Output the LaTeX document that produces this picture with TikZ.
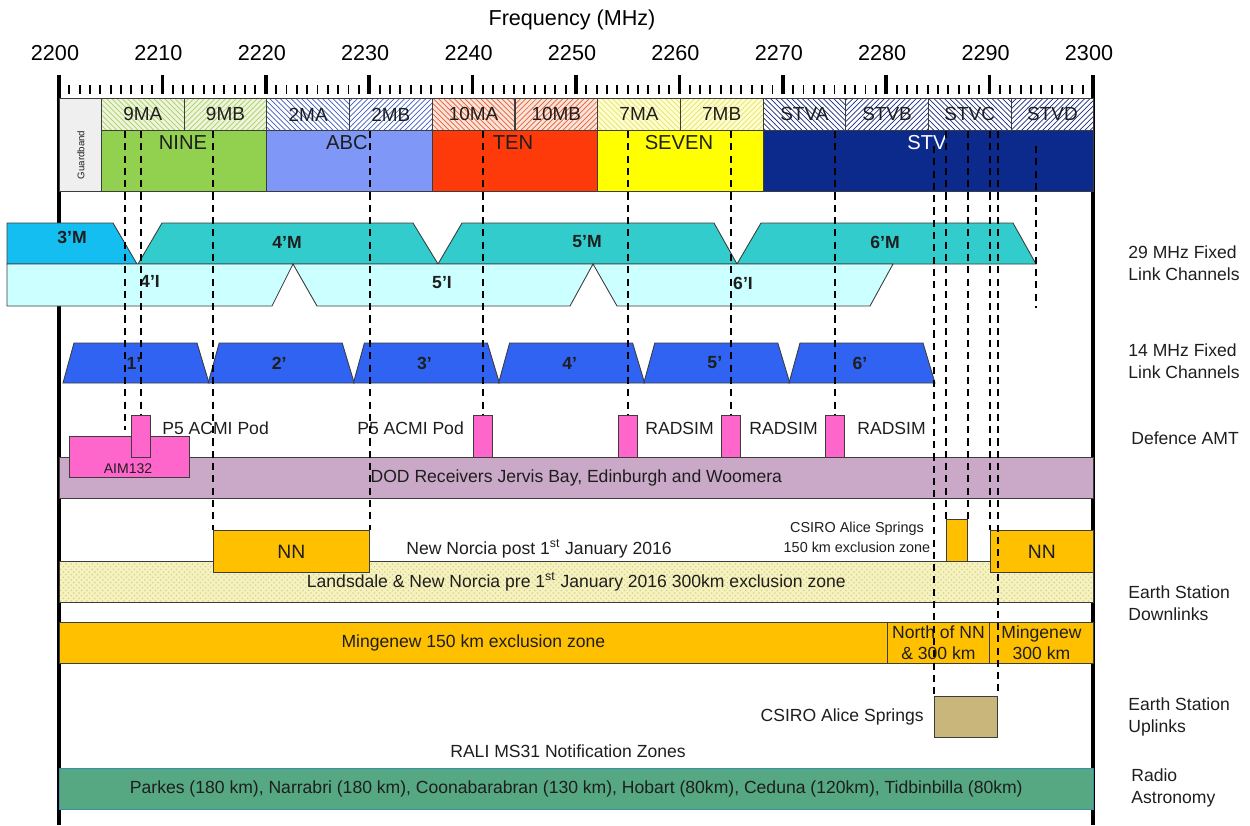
\documentclass[tikz,border=0pt]{standalone}
\usepackage{fontspec}
\setmainfont{Liberation Sans}
\usetikzlibrary{patterns}

\definecolor{outl}{HTML}{3C3C3C}
\definecolor{txt}{HTML}{1E1E1E}
\definecolor{guardc}{HTML}{EFEFEF}
\definecolor{ninel}{HTML}{EEF5DA}
\definecolor{nineh}{HTML}{A9CF6A}
\definecolor{ninec}{HTML}{92D050}
\definecolor{abch}{HTML}{3F5FC0}
\definecolor{abcc}{HTML}{7F97F7}
\definecolor{tenl}{HTML}{FBE3D8}
\definecolor{tenh}{HTML}{E2603C}
\definecolor{tenc}{HTML}{FF3A0A}
\definecolor{sevl}{HTML}{FFFFD0}
\definecolor{sevh}{HTML}{E6E070}
\definecolor{sevc}{HTML}{FFFF00}
\definecolor{stvh}{HTML}{1B2F7F}
\definecolor{stvc}{HTML}{0C2A8C}
\definecolor{m3c}{HTML}{14BEF0}
\definecolor{mc}{HTML}{33CCCC}
\definecolor{ic}{HTML}{CCFFFF}
\definecolor{fourteen}{HTML}{3063F2}
\definecolor{pinkc}{HTML}{FF66CC}
\definecolor{dodc}{HTML}{CAA9C8}
\definecolor{landl}{HTML}{F6F2C0}
\definecolor{landh}{HTML}{D9D18A}
\definecolor{nnc}{HTML}{FFC000}
\definecolor{tanc}{HTML}{C9B67B}
\definecolor{radioc}{HTML}{55A882}
\definecolor{radioe}{HTML}{3A8FA8}

\begin{document}
\begin{tikzpicture}[x=0.02cm, y=-0.02cm,
    rim/.style={draw=outl, line width=0.5pt},
    box/.style={rim, inner sep=0pt, anchor=north west},
    chan/.style={box, minimum width=1.654cm, minimum height=0.64cm,
                 font=\fontsize{10.8}{12}\selectfont, text=txt},
    band/.style={box, minimum width=3.309cm, minimum height=1.22cm},
    bname/.style={font=\fontsize{11.5}{13}\selectfont, text=txt},
    strip/.style={box, minimum width=20.68cm, minimum height=0.82cm,
                  font=\fontsize{10}{12}\selectfont, text=txt},
    txtlab/.style={font=\fontsize{10}{12.5}\selectfont, text=txt, inner sep=0pt},
    side/.style={txtlab, anchor=west, align=left},
    chlab/.style={font=\bfseries\fontsize{10}{12}\selectfont, text=txt},
    pod/.style={rim, fill=pinkc, inner sep=0pt, anchor=north,
                minimum width=0.38cm, minimum height=0.84cm},
    nnbox/.style={box, fill=nnc, minimum height=0.84cm,
                  font=\fontsize{11}{13}\selectfont, text=txt},
    mingbox/.style={box, fill=nnc, minimum height=0.82cm, align=center,
                    font=\fontsize{10}{12}\selectfont, text=txt},
    guide/.style={line width=1.4pt, dash pattern=on 4pt off 3pt},
    minortk/.style={line width=1.1pt},
    majortk/.style={line width=2pt},
    axisline/.style={line width=2.2pt}
  ]
  \useasboundingbox (0,0) rectangle (1250,825);

  % frequency scale
  \node[font=\fontsize{12.3}{14}\selectfont] (title) at (572,20) {Frequency (MHz)};
  \foreach \fq [count=\k from 0] in {2200,2210,...,2300}
    \node[font=\fontsize{12.3}{14}\selectfont] (f\k) at ({55+\k*103.4},53) {\fq};
  \foreach \m in {1,...,99}
    \draw[minortk] ({59+\m*10.34},85) -- ({59+\m*10.34},94);
  \foreach \k in {1,...,9}
    \draw[majortk] ({59+\k*103.4},75) -- ({59+\k*103.4},94);
  \draw[axisline] (59,75) -- (59,825);
  \draw[axisline] (1093,75) -- (1093,825);

  % broadcaster channels
  \node[box, fill=guardc, minimum width=0.84cm, minimum height=1.86cm] (guard) at (59,98) {};
  \node[rotate=90, font=\fontsize{5.5}{6}\selectfont, text=txt] (guardT) at (81,155) {Guardband};
  \foreach \nm/\bg/\hc/\dir [count=\i from 0] in {
      9MA/ninel/nineh/north west lines,9MB/ninel/nineh/north east lines,
      2MA/white/abch/north west lines,2MB/white/abch/north east lines,
      10MA/tenl/tenh/north west lines,10MB/tenl/tenh/north east lines,
      7MA/sevl/sevh/north west lines,7MB/sevl/sevh/north east lines,
      STVA/white/stvh/north west lines,STVB/white/stvh/north east lines,
      STVC/white/stvh/north west lines,STVD/white/stvh/north east lines}
    \node[chan, preaction={fill=\bg}, pattern=\dir, pattern color=\hc] (ch\i) at ({101+\i*82.7},98) {\nm};

  \node[band, fill=ninec] (nine) at (101,130) {};
  \node[band, fill=abcc] (abc) at (266.4,130) {};
  \node[band, fill=tenc] (ten) at (431.8,130) {};
  \node[band, fill=sevc] (seven) at (597.2,130) {};
  \node[band, fill=stvc, minimum width=6.618cm] (stv) at (762.6,130) {};
  \node[bname] (nineT) at (183,143) {NINE};
  \node[bname] (abcT) at (347,143) {ABC};
  \node[bname] (tenT) at (513,143) {TEN};
  \node[bname] (sevenT) at (679,143) {SEVEN};
  \node[bname, text=white] (stvT) at (927,143) {STV};

  % 29 MHz fixed link channels
  \filldraw[rim, fill=m3c] (7,223) -- (113,223) -- (137,264) -- (7,264) -- cycle;
  \filldraw[rim, fill=mc] (138,264) -- (162,223) -- (413,223) -- (438,264) -- cycle;
  \filldraw[rim, fill=mc] (438,264) -- (462,223) -- (714,223) -- (737,264) -- cycle;
  \filldraw[rim, fill=mc] (737,264) -- (761,223) -- (1013,223) -- (1036,264) -- cycle;
  \filldraw[rim, fill=ic] (7,264) -- (293,264) -- (272,306) -- (7,306) -- cycle;
  \filldraw[rim, fill=ic] (293,264) -- (593,264) -- (570,306) -- (317,306) -- cycle;
  \filldraw[rim, fill=ic] (593,264) -- (893,264) -- (870,306) -- (617,306) -- cycle;
  \node[chlab] (m3) at (72,237) {3’M};
  \node[chlab] (m4) at (287,242) {4’M};
  \node[chlab] (m5) at (587,242) {5’M};
  \node[chlab] (m6) at (885,242) {6’M};
  \node[chlab] (i4) at (150,281) {4’I};
  \node[chlab] (i5) at (442,283) {5’I};
  \node[chlab] (i6) at (743,283) {6’I};

  % 14 MHz fixed link channels
  \foreach \n [count=\k from 0] in {1,...,6} {
    \filldraw[rim, fill=fourteen] ({63+\k*145.2},383) -- ({74+\k*145.2},343)
      -- ({197+\k*145.2},343) -- ({209+\k*145.2},383) -- cycle;
    \node[chlab] (t\n) at ({134+\k*145.2},363) {\n’};
  }

  % defence AMT
  \node[strip, fill=dodc] (dod) at (59,457) {DOD Receivers Jervis Bay, Edinburgh and Woomera};
  \node[box, fill=pinkc, minimum width=2.4cm, minimum height=0.82cm] (aim) at (69,436) {};
  \node[font=\fontsize{8}{9}\selectfont, text=txt] (aimT) at (128,469) {AIM132};
  \node[pod] (p1) at (141,415) {};
  \node[pod] (p2) at (483,415) {};
  \node[pod] (p3) at (628,415) {};
  \node[pod] (p4) at (731,415) {};
  \node[pod] (p5) at (835,415) {};
  \node[txtlab, anchor=west] (pod1T) at (162,428) {P5 ACMI Pod};
  \node[txtlab, anchor=west] (pod2T) at (357,428) {P5 ACMI Pod};
  \node[txtlab, anchor=west] (rad1) at (645,428) {RADSIM};
  \node[txtlab, anchor=west] (rad2) at (749,428) {RADSIM};
  \node[txtlab, anchor=west] (rad3) at (857,428) {RADSIM};

  % earth station downlinks
  \node[strip, preaction={fill=landl}, pattern=crosshatch dots, pattern color=landh] (land) at (59,561)
    {Landsdale \& New Norcia pre 1\textsuperscript{st} January 2016 300km exclusion zone};
  \node[nnbox, minimum width=3.12cm] (nnl) at (213,530) {NN};
  \node[nnbox, minimum width=2.06cm] (nnr) at (990,530) {NN};
  \node[nnbox, minimum width=0.42cm] (cs) at (946,519) {};
  \node[txtlab] (nnpost) at (539,549) {New Norcia post 1\textsuperscript{st} January 2016};
  \node[align=center, font=\fontsize{8.2}{11.3}\selectfont, text=txt] (csT) at (857,537)
    {CSIRO Alice Springs\\150 km exclusion zone};
  \node[mingbox, minimum width=16.56cm] (ming) at (59,622) {Mingenew 150 km exclusion zone};
  \node[mingbox, minimum width=2.04cm] (north) at (887,622) {North of NN\\\& 300 km};
  \node[mingbox, minimum width=2.08cm] (ming3) at (989,622) {Mingenew\\300 km};

  % earth station uplinks
  \node[box, fill=tanc, minimum width=1.26cm, minimum height=0.82cm] (up) at (934,696) {};
  \node[txtlab, anchor=east] (upT) at (924,717) {CSIRO Alice Springs};

  % radio astronomy
  \node[txtlab] (rali) at (568,751) {RALI MS31 Notification Zones};
  \node[strip, fill=radioc, draw=radioe] (radio) at (59,768)
    {Parkes (180 km), Narrabri (180 km), Coonabarabran (130 km), Hobart (80km), Ceduna (120km), Tidbinbilla (80km)};

  % row labels
  \node[side] (s29) at (1128,263) {29 MHz Fixed\\Link Channels};
  \node[side] (s14) at (1128,361) {14 MHz Fixed\\Link Channels};
  \node[side] (samt) at (1131,438) {Defence AMT};
  \node[side] (sdown) at (1128,603) {Earth Station\\Downlinks};
  \node[side] (sup) at (1128,717) {Earth Station\\Uplinks};
  \node[side] (sradio) at (1131,788) {Radio\\Astronomy};

  % guide lines
  \coordinate (top) at (0,131);
  \coordinate (stvtop) at (0,146);
  \coordinate (aimtip) at (125,430);
  \coordinate (m6end) at (1036,308);
  \draw[guide] (aimtip |- top) -- (aimtip);
  \draw[guide] (p1.north |- top) -- (p1.north);
  \draw[guide] (nnl.north west |- top) -- (nnl.north west);
  \draw[guide] (nnl.north east |- top) -- (nnl.north east);
  \draw[guide] (p2.north |- top) -- (p2.north);
  \draw[guide] (p3.north |- top) -- (p3.north);
  \draw[guide] (p4.north |- top) -- (p4.north);
  \draw[guide] (p5.north |- top) -- (p5.north);
  \draw[guide] (up.north west |- stvtop) -- (up.north west);
  \draw[guide] (cs.north west |- top) -- (cs.north west);
  \draw[guide] (cs.north east |- top) -- (cs.north east);
  \draw[guide] (nnr.north west |- top) -- (nnr.north west);
  \draw[guide] (up.north east |- top) -- (up.north east);
  \draw[guide] (m6end |- stvtop) -- (m6end);
\end{tikzpicture}
\end{document}
